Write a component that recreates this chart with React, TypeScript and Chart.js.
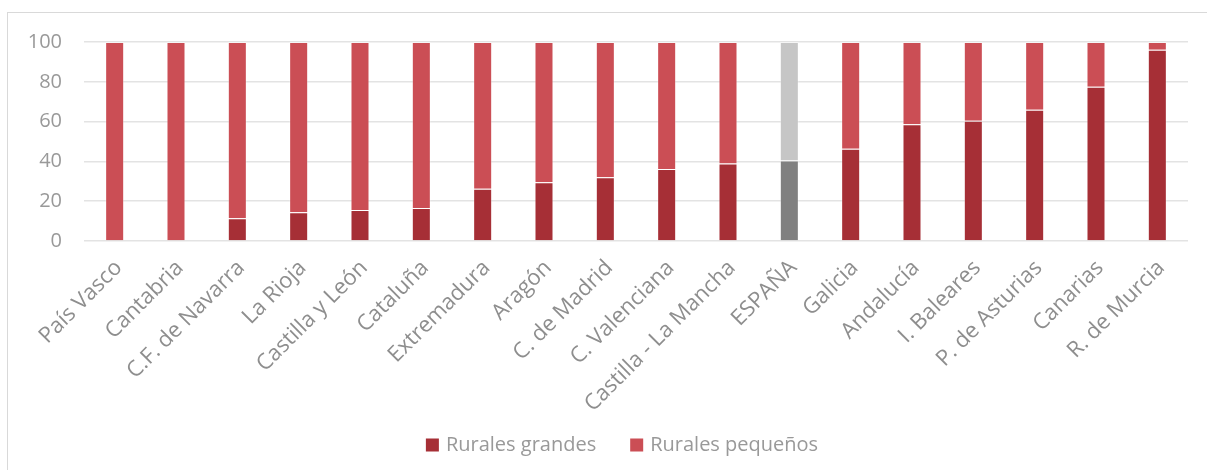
import React, { useEffect, useRef } from "react";
import { Chart, registerables } from "chart.js";

Chart.register(...registerables);

const categories = [
  "País Vasco", "Cantabria", "C.F. de Navarra", "La Rioja", "Castilla y León",
  "Cataluña", "Extremadura", "Aragón", "C. de Madrid", "C. Valenciana",
  "Castilla - La Mancha", "ESPAÑA", "Galicia", "Andalucía", "I. Baleares",
  "P. de Asturias", "Canarias", "R. de Murcia",
];

const ruralesGrandes = [0, 0, 11.4, 14.4, 15.6, 16.6, 26.2, 29.5, 32.0, 36.2, 38.9, 40.4, 46.3, 58.7, 60.4, 65.9, 77.5, 96.1];
const ruralesPequenos = [100, 100, 88.6, 85.6, 84.4, 83.4, 73.8, 70.5, 68.0, 63.8, 61.1, 59.6, 53.7, 41.3, 39.6, 34.1, 22.5, 3.9];

const yTicks = [0, 20, 40, 60, 80, 100];

const seriesNames = ["Rurales grandes", "Rurales pequeños"];
const seriesColors = ["#A62F36", "#CB4E55"];

const FONT = "'Open Sans', sans-serif";
const TEXT = "#999999";

const bottomLegend = {
  id: "bottomLegend",
  afterDraw(chart: any) {
    const ctx = chart.ctx;
    ctx.save();
    ctx.font = `20px ${FONT}`;
    ctx.textBaseline = "middle";
    ctx.textAlign = "left";
    const box = 13;
    const gap = 7;
    const itemGap = 34;
    const widths = seriesNames.map((t) => ctx.measureText(t).width);
    const total = widths.reduce((a, w) => a + box + gap + w, 0) + itemGap * (seriesNames.length - 1);
    const cx = 622;
    const cy = 445;
    let x = cx - total / 2;
    seriesNames.forEach((t, i) => {
      ctx.fillStyle = seriesColors[i];
      ctx.fillRect(x, cy - box / 2, box, box);
      x += box + gap;
      ctx.fillStyle = TEXT;
      ctx.fillText(t, x, cy);
      x += widths[i] + itemGap;
    });
    ctx.restore();
  },
};

export default function App() {
  const ref = useRef<HTMLCanvasElement | null>(null);

  useEffect(() => {
    if (!ref.current) return;
    const grandeColors = categories.map((c) => (c === "ESPAÑA" ? "#808080" : seriesColors[0]));
    const pequenoColors = categories.map((c) => (c === "ESPAÑA" ? "#C6C6C6" : seriesColors[1]));
    const chart = new Chart(ref.current, {
      type: "bar",
      data: {
        labels: categories,
        datasets: [
          {
            label: seriesNames[0],
            data: ruralesGrandes,
            backgroundColor: grandeColors,
            borderColor: "rgba(255,255,255,0.3)",
            borderWidth: 1,
            barPercentage: 0.31,
            categoryPercentage: 1,
          },
          {
            label: seriesNames[1],
            data: ruralesPequenos,
            backgroundColor: pequenoColors,
            borderColor: "rgba(255,255,255,0.3)",
            borderWidth: 1,
            barPercentage: 0.31,
            categoryPercentage: 1,
          },
        ],
      },
      options: {
        animation: false,
        responsive: false,
        maintainAspectRatio: false,
        layout: { padding: { top: 42, right: 19, left: 0, bottom: 0 } },
        plugins: {
          tooltip: { enabled: false },
          legend: { display: false },
        },
        scales: {
          x: {
            stacked: true,
            grid: { display: false, drawTicks: false },
            border: { display: false },
            ticks: {
              color: "#8E8E8E",
              font: { family: FONT, size: 22 },
              maxRotation: 45,
              minRotation: 45,
              autoSkip: false,
              padding: 14,
              labelOffset: 4,
            },
            afterFit: (s: any) => {
              s.height = 229;
            },
          },
          y: {
            stacked: true,
            min: 0,
            max: 100,
            afterBuildTicks: (s: any) => {
              s.ticks = yTicks.map((v) => ({ value: v }));
            },
            grid: { color: "#E3E3E3", lineWidth: 1.5, drawTicks: false },
            border: { display: false },
            ticks: {
              color: TEXT,
              font: { family: FONT, size: 20 },
              padding: 22,
            },
            afterFit: (s: any) => {
              s.width = 84;
            },
          },
        },
      },
      plugins: [bottomLegend],
    });
    return () => chart.destroy();
  }, []);

  return (
    <div style={{ position: "absolute", left: 0, top: 0, width: 1207, height: 470, background: "#fff", overflow: "hidden" }}>
      <div
        style={{
          position: "absolute",
          left: 7,
          top: 12,
          width: 1210,
          height: 470,
          borderLeft: "1px solid #D9D9D9",
          borderTop: "1px solid #D9D9D9",
        }}
      />
      <canvas ref={ref} width={1207} height={470} style={{ position: "absolute", left: 0, top: 0 }} />
    </div>
  );
}
